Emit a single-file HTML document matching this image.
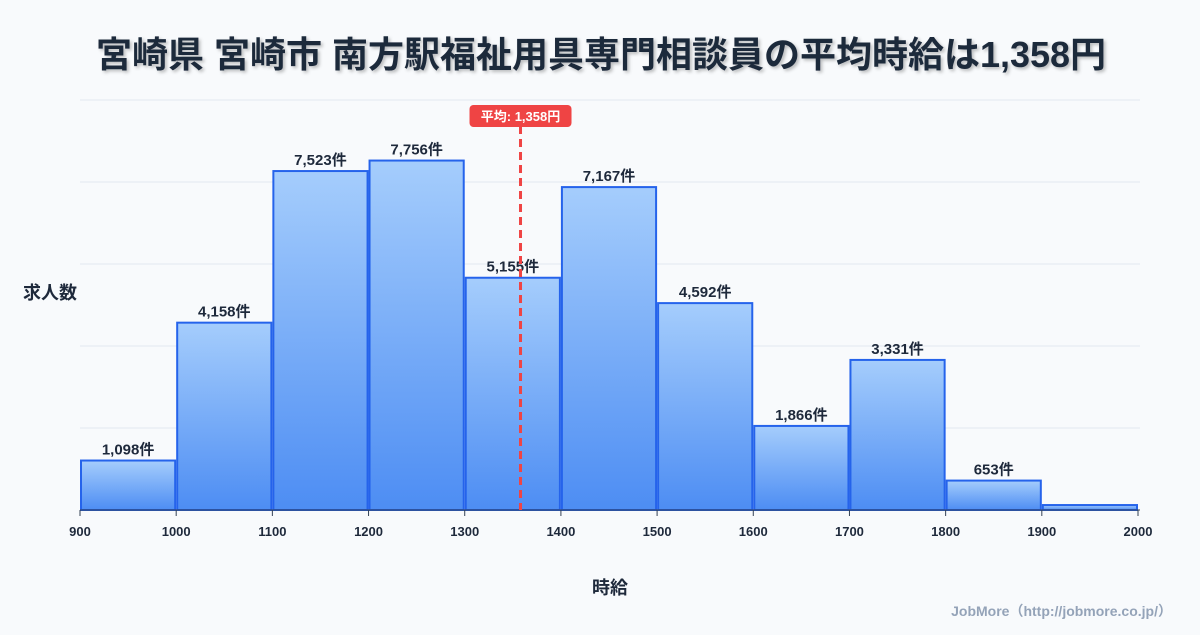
<!DOCTYPE html>
<html><head><meta charset="utf-8">
<style>
body{margin:0;background:#f8fafc;width:1200px;height:630px;overflow:hidden;font-family:"Liberation Sans","Noto Sans CJK JP",sans-serif;}
svg text{font-family:"Liberation Sans","Noto Sans CJK JP",sans-serif;}
</style></head>
<body>
<svg id="chart" width="1200" height="630" xmlns="http://www.w3.org/2000/svg">
<defs>
<linearGradient id="bg" x1="0" y1="0" x2="0" y2="1"><stop offset="0" stop-color="#a5cdfc"/><stop offset="1" stop-color="#4d8df3"/></linearGradient>
<filter id="sh" x="-5%" y="-20%" width="110%" height="150%"><feDropShadow dx="2" dy="2" stdDeviation="1.5" flood-color="#000" flood-opacity="0.25"/></filter>
</defs>
<text x="601" y="67" text-anchor="middle" font-size="36" font-weight="bold" fill="#1e293b" filter="url(#sh)">宮崎県 宮崎市 南方駅福祉用具専門相談員の平均時給は1,358円</text>
<g id="grid"></g><g id="bars"></g><g id="axis"></g>
<text x="50" y="299" text-anchor="middle" font-size="18" font-weight="bold" fill="#1e293b">求人数</text>
<text x="610" y="594" text-anchor="middle" font-size="18" font-weight="bold" fill="#1e293b">時給</text>
<text x="1172" y="616" text-anchor="end" font-size="14" font-weight="bold" fill="#94a3b8">JobMore（http://jobmore.co.jp/）</text>
</svg>
<script>
const binStarts=[900,1000,1100,1200,1300,1400,1500,1600,1700,1800,1900];
const counts=[1098,4158,7523,7756,5155,7167,4592,1866,3331,653,110];
const labels=["1,098件","4,158件","7,523件","7,756件","5,155件","7,167件","4,592件","1,866件","3,331件","653件",""];
const xTicks=[900,1000,1100,1200,1300,1400,1500,1600,1700,1800,1900,2000];
const meanValue=1358;
const meanLabel="平均: 1,358円";
const yMax=9100;
const NS="http://www.w3.org/2000/svg";
const X=v=>80+(v-900)*(1058/1100);
const Y=v=>510-v*(410/yMax);
function mk(tag,attrs,parent,text){const e=document.createElementNS(NS,tag);for(const k in attrs)e.setAttribute(k,attrs[k]);if(text!==undefined)e.textContent=text;parent.appendChild(e);return e;}
const grid=document.getElementById('grid'),bars=document.getElementById('bars'),axis=document.getElementById('axis');
for(let i=0;i<=5;i++){const y=510-i*82;const l=mk('line',{x1:80,x2:1140,y1:y,y2:y,stroke:'#e2e8f0','stroke-width':1},grid);

}
binStarts.forEach((b,i)=>{const x0=X(b)+1,x1=X(b+100)-1,y=Y(counts[i]);
const r=mk('rect',{x:x0,y:y,width:x1-x0,height:510-y,fill:'url(#bg)',stroke:'#2563eb','stroke-width':2},bars);


if(labels[i]){const t=mk('text',{x:(x0+x1)/2,y:y-6,'text-anchor':'middle','font-size':15,'font-weight':'bold',fill:'#1e293b'},bars,labels[i]);

}});
mk('line',{x1:80,x2:1140,y1:510,y2:510,stroke:'#334155','stroke-width':1},axis);
xTicks.forEach(v=>{mk('line',{x1:X(v),x2:X(v),y1:510,y2:516,stroke:'#334155'},axis);
const t=mk('text',{x:X(v),y:536,'text-anchor':'middle','font-size':13,'font-weight':'bold',fill:'#1e293b'},axis,String(v));

});
const mx=X(meanValue);
const ml=mk('line',{x1:mx,x2:mx,y1:126,y2:510,stroke:'#ef4444','stroke-width':3,'stroke-dasharray':'8,5'},axis);


const mb=mk('rect',{x:mx-51,y:105,width:102,height:22,rx:4,fill:'#ef4444'},axis);


const mt=mk('text',{x:mx,y:121,'text-anchor':'middle','font-size':13,'font-weight':'bold',fill:'#fff'},axis,meanLabel);


</script>
</body></html>
